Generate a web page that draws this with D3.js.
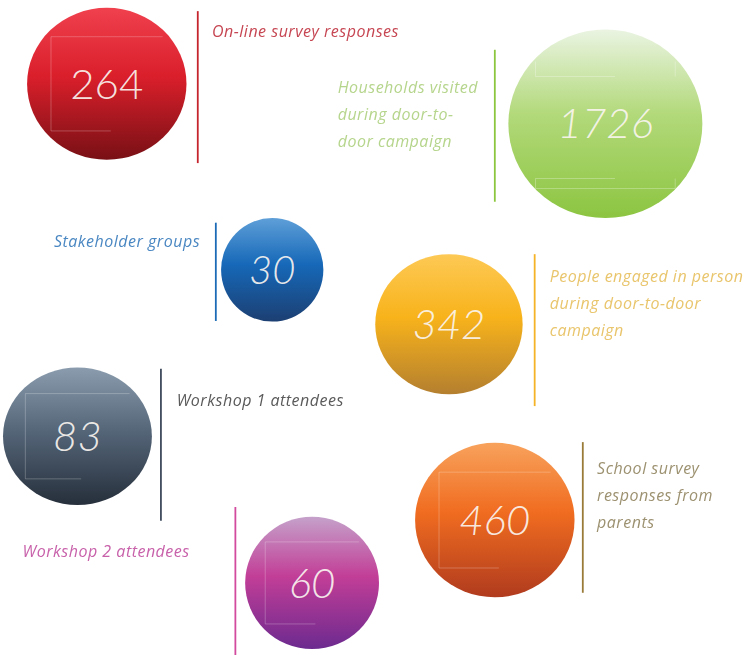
<!DOCTYPE html>
<html>
<head>
<meta charset="utf-8">
<script src="https://cdn.jsdelivr.net/npm/d3@7"></script>
<style>
  body { margin: 0; background: #fff; }
  svg { display: block; }
</style>
</head>
<body>
<div id="chart"></div>
<script>
// Data
const values = [264, 1726, 30, 342, 83, 60, 460];
const labels = [
    ['On-line survey responses'],
    ['Households visited', 'during door-to-', 'door campaign'],
    ['Stakeholder groups'],
    ['People engaged in person', 'during door-to-door', 'campaign'],
    ['Workshop 1 attendees'],
    ['Workshop 2 attendees'],
    ['School survey', 'responses from', 'parents']
];
const gradientStops = [
    ['#f0404e', '#da1f2b', '#781015'],
    ['#eaf4e2', '#b2d97a', '#8cc541'],
    ['#5e9fd8', '#1668b8', '#1c3f72'],
    ['#fdc955', '#f8b31b', '#b47f2f'],
    ['#8a9cad', '#56677a', '#262f3b'],
    ['#c5a1ca', '#c23e97', '#6c2a8f'],
    ['#f8a25c', '#f06c20', '#b03b1e']
];
const labelColors = ['#c64652', '#b6d58c', '#4a87c2', '#e9c56c', '#5a5a5a', '#c861aa', '#9c9170'];
const lineColors  = ['#c5262e', '#8cc63f', '#1b6bb6', '#f5b428', '#3e4b5c', '#d14a9e', '#9a7b38'];

// Layout (grid units 0..100 mapped through scales)
const layout = [
    {cx: 14.2, cy: 12.8, rx: 10.6, ry: 11.6, line: {x: 26.3, y1: 1.7, y2: 24.9}, text: {x: 28.2, y: 4.8, anchor: 'start'}, bracket: 'left'},
    {cx: 80.5, cy: 18.9, rx: 12.9, ry: 14.4, line: {x: 65.8, y1: 7.6, y2: 30.8}, text: {x: 44.9, y: 13.3, anchor: 'start'}, bracket: 'both'},
    {cx: 36.2, cy: 41.2, rx: 6.8, ry: 7.9, line: {x: 28.7, y1: 34.0, y2: 49.0}, text: {x: 26.6, y: 36.9, anchor: 'end'}, bracket: null},
    {cx: 59.7, cy: 49.5, rx: 9.8, ry: 10.7, line: {x: 71.1, y1: 38.8, y2: 62.0}, text: {x: 73.1, y: 42.2, anchor: 'start'}, bracket: null},
    {cx: 10.3, cy: 66.6, rx: 9.9, ry: 10.5, line: {x: 21.4, y1: 56.3, y2: 79.5}, text: {x: 23.5, y: 61.2, anchor: 'start'}, bracket: 'left'},
    {cx: 41.5, cy: 89.0, rx: 8.9, ry: 10.1, line: {x: 31.3, y1: 77.4, y2: 100}, text: {x: 3.0, y: 84.2, anchor: 'start'}, bracket: 'left'},
    {cx: 65.8, cy: 79.4, rx: 10.6, ry: 11.8, line: {x: 77.5, y1: 67.5, y2: 90.5}, text: {x: 79.4, y: 71.5, anchor: 'start'}, bracket: 'left'}
];

const width = 752, height = 655;

const x = d3.scaleLinear().domain([0, 100]).range([0, width]);
const y = d3.scaleLinear().domain([0, 100]).range([0, height]);

const svg = d3.select('#chart')
    .append('svg')
    .attr('width', width)
    .attr('height', height);

const defs = svg.append('defs');

// Gradients, one per bubble
gradientStops.forEach((stops, i) => {
    const g = defs.append('linearGradient')
        .attr('id', 'grad' + i)
        .attr('x1', 0).attr('y1', 0)
        .attr('x2', 0).attr('y2', 1);
    g.append('stop').attr('offset', '0%').attr('stop-color', stops[0]);
    g.append('stop').attr('offset', '45%').attr('stop-color', stops[1]);
    g.append('stop').attr('offset', '100%').attr('stop-color', stops[2]);
});

// Soft blur for the labels
defs.append('filter')
    .attr('id', 'soft')
    .append('feGaussianBlur')
    .attr('stdDeviation', 0.35);

const items = values.map((v, i) => ({value: v, label: labels[i], i, ...layout[i]}));

const groups = svg.selectAll('g.bubble')
    .data(items)
    .enter()
    .append('g')
    .attr('class', 'bubble');

// Separator lines
groups.append('line')
    .attr('x1', d => x(d.line.x))
    .attr('x2', d => x(d.line.x))
    .attr('y1', d => y(d.line.y1))
    .attr('y2', d => y(d.line.y2))
    .attr('stroke', d => lineColors[d.i])
    .attr('stroke-width', 1.8);

// Bubbles
groups.append('ellipse')
    .attr('cx', d => x(d.cx))
    .attr('cy', d => y(d.cy))
    .attr('rx', d => x(d.rx))
    .attr('ry', d => y(d.ry))
    .attr('fill', d => `url(#grad${d.i})`);

// Faint decorative brackets inside the bubbles
groups.filter(d => d.bracket === 'left')
    .append('path')
    .attr('d', d => {
        const cx = x(d.cx), cy = y(d.cy), rx = x(d.rx), ry = y(d.ry);
        const l = cx - rx * 0.7, t = cy - ry * 0.62, b = cy + ry * 0.62;
        return `M${cx + rx * 0.7},${t}H${l}V${b}H${cx + rx * 0.05}`;
    })
    .attr('fill', 'none')
    .attr('stroke', 'rgba(255,255,255,0.3)')
    .attr('stroke-width', 0.8);

groups.filter(d => d.bracket === 'both')
    .append('path')
    .attr('d', d => {
        const cx = x(d.cx), cy = y(d.cy), rx = x(d.rx), ry = y(d.ry);
        const l = cx - rx * 0.72, r = cx + rx * 0.72, t = cy - ry * 0.66, b = cy + ry * 0.58;
        return `M${l},${t}V${t + 15}H${cx + rx * 0.1}M${r},${t}V${t + 15}` +
               `M${l},${b}V${b + 10}H${r}V${b}M${l},${b}H${cx + rx * 0.1}`;
    })
    .attr('fill', 'none')
    .attr('stroke', 'rgba(255,255,255,0.35)')
    .attr('stroke-width', 0.8);

// Values
groups.append('text')
    .attr('x', d => x(d.cx))
    .attr('y', d => y(d.cy))
    .attr('dy', '0.35em')
    .attr('text-anchor', 'middle')
    .attr('font-family', 'Lato, "Open Sans", sans-serif')
    .attr('font-style', d => d.i === 0 ? 'normal' : 'italic')
    .attr('font-weight', 300)
    .attr('font-size', d => d.i === 2 ? '40px' : '42px')
    .attr('fill', 'rgba(250,245,240,0.93)')
    .text(d => d.value);

// Labels
groups.append('text')
    .attr('x', d => x(d.text.x))
    .attr('y', d => y(d.text.y))
    .attr('text-anchor', d => d.text.anchor)
    .attr('font-family', '"Open Sans", Lato, sans-serif')
    .attr('font-style', 'italic')
    .attr('font-size', '16px')
    .attr('letter-spacing', '0.5px')
    .attr('fill', d => labelColors[d.i])
    .attr('filter', 'url(#soft)')
    .selectAll('tspan')
    .data(d => d.label.map(t => ({t, d})))
    .enter()
    .append('tspan')
    .attr('x', v => x(v.d.text.x))
    .attr('dy', (v, k) => k === 0 ? '0.35em' : '27px')
    .text(v => v.t);
</script>
</body>
</html>
